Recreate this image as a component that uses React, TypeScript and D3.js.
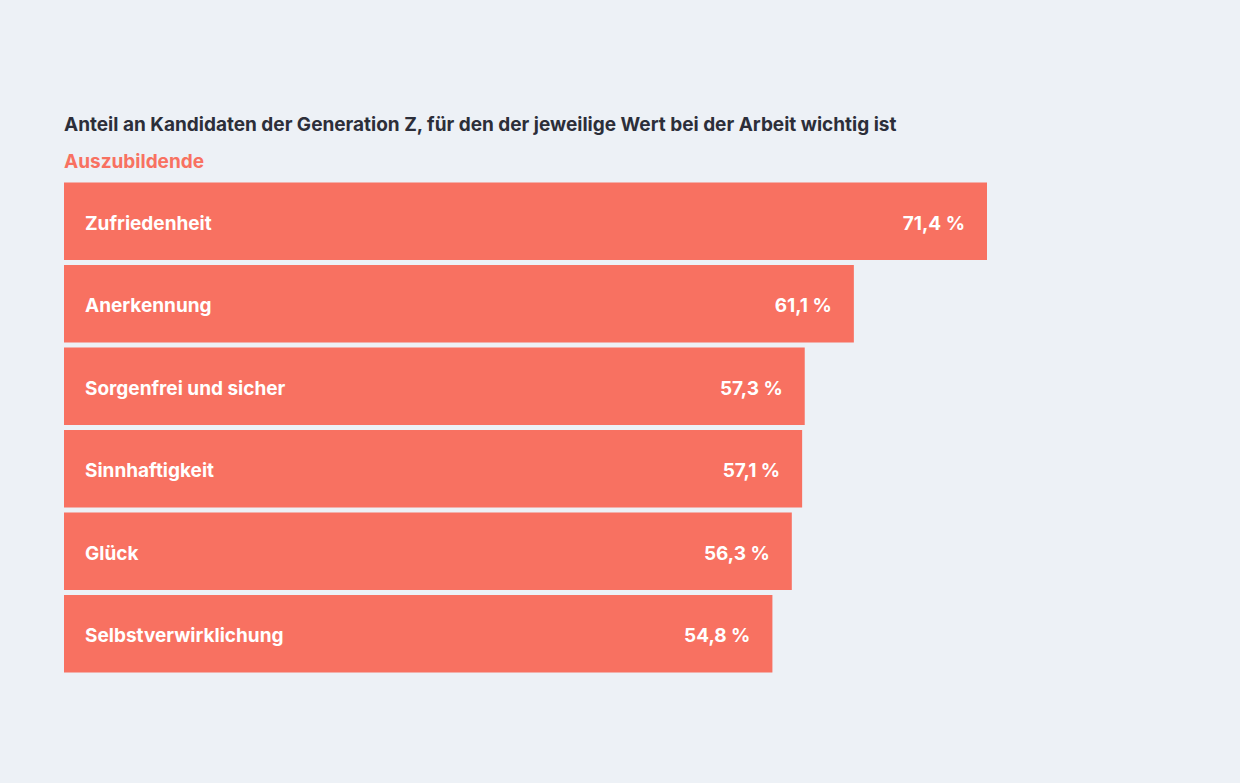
import { useEffect, useRef } from 'react'
import * as d3 from 'd3'

const categories = [
  'Zufriedenheit',
  'Anerkennung',
  'Sorgenfrei und sicher',
  'Sinnhaftigkeit',
  'Glück',
  'Selbstverwirklichung',
]
const values = [71.4, 61.1, 57.3, 57.1, 56.3, 54.8]

const title = 'Anteil an Kandidaten der Generation Z, für den der jeweilige Wert bei der Arbeit wichtig ist'
const subtitle = 'Auszubildende'

export default function App() {
  const svgRef = useRef<SVGSVGElement>(null)

  useEffect(() => {
    if (!svgRef.current) return
    const svg = d3.select(svgRef.current)
    svg.selectAll('*').remove()

    const width = 1240
    const height = 783
    const left = 64
    const top = 182.5
    const bottom = 672.5
    const fs = 19

    const coral = '#f87161'
    const font = 'Inter, "Noto Sans", sans-serif'

    svg.append('rect').attr('width', width).attr('height', height).attr('fill', '#edf1f6')

    svg
      .append('text')
      .attr('x', left)
      .attr('y', 131)
      .attr('font-family', font)
      .attr('font-size', fs)
      .attr('font-weight', 700)
      .attr('fill', '#2c2e39')
      .text(title)

    svg
      .append('text')
      .attr('x', left)
      .attr('y', 168)
      .attr('font-family', font)
      .attr('font-size', fs)
      .attr('font-weight', 700)
      .attr('fill', coral)
      .text(subtitle)

    const x = d3.scaleLinear().domain([0, 71.4]).range([0, 923])
    const y = d3
      .scaleBand<string>()
      .domain(categories)
      .range([top, bottom + 5])
      .paddingInner(0)

    const bh = y.bandwidth() - 5

    const g = svg
      .selectAll('g.bar')
      .data(categories.map((c, i) => ({ c, v: values[i] })))
      .enter()
      .append('g')
      .attr('class', 'bar')
      .attr('transform', d => `translate(${left},${y(d.c)})`)

    g.append('rect')
      .attr('width', d => x(d.v))
      .attr('height', bh)
      .attr('fill', coral)

    g.append('text')
      .attr('x', 21)
      .attr('y', bh / 2 + 8.5)
      .attr('font-family', font)
      .attr('font-size', fs)
      .attr('font-weight', 700)
      .attr('fill', '#ffffff')
      .text(d => d.c)

    g.append('text')
      .attr('x', d => x(d.v) - 22)
      .attr('y', bh / 2 + 8.5)
      .attr('text-anchor', 'end')
      .attr('font-family', font)
      .attr('font-size', fs)
      .attr('font-weight', 700)
      .attr('fill', '#ffffff')
      .text(d => `${d.v.toFixed(1).replace('.', ',')} %`)
  }, [])

  return (
    <div style={{ position: 'absolute', left: 0, top: 0 }}>
      <svg ref={svgRef} width={1240} height={783} style={{ display: 'block' }}></svg>
    </div>
  )
}
